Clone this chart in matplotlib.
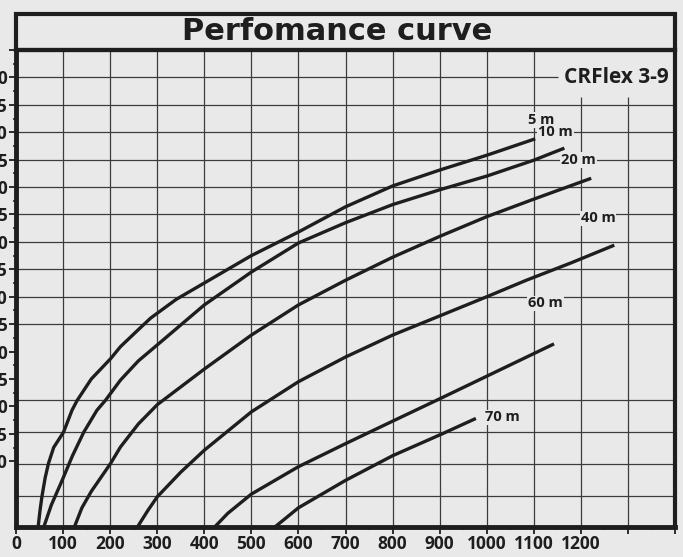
import matplotlib
matplotlib.use('Agg')
import matplotlib.pyplot as plt
from matplotlib.patches import Rectangle

x_5m = [47, 51, 55, 62, 69, 80, 101, 119, 130, 160, 201, 222, 260, 286, 340, 400, 500, 600, 700, 800, 900, 1000, 1103]
y_5m = [-2, 1, 3.5, 7, 9.6, 12.5, 15.3, 19.3, 21.1, 25, 28.7, 30.9, 34, 36.1, 39.5, 42.5, 47.5, 51.8, 56.4, 60.2, 63.1, 65.8, 68.8]
x_10m = [59, 75, 98, 120, 144, 172, 190, 222, 260, 300, 400, 500, 600, 700, 800, 900, 1000, 1100, 1165]
y_10m = [-2, 2, 6.5, 11, 15.3, 19.3, 21.1, 24.8, 28.3, 31.2, 38.5, 44.5, 49.8, 53.5, 56.8, 59.5, 62, 64.9, 67.1]
x_20m = [124, 140, 160, 201, 222, 260, 300, 400, 500, 600, 700, 800, 900, 1000, 1100, 1222]
y_20m = [-2, 1.5, 4.5, 9.6, 12.6, 16.8, 20.3, 26.8, 33, 38.5, 43, 47.2, 51, 54.6, 57.8, 61.6]
x_40m = [258, 280, 300, 350, 400, 500, 600, 700, 800, 903, 1003, 1084, 1180, 1271]
y_40m = [-2, 1, 3.5, 8, 12, 19, 24.5, 29, 33, 36.6, 40.1, 43, 46.2, 49.4]
x_60m = [422, 450, 500, 600, 700, 800, 903, 1000, 1143]
y_60m = [-2, 0.5, 4, 9, 13.2, 17.3, 21.5, 25.5, 31.4]
x_70m = [550, 600, 700, 800, 903, 977]
y_70m = [-2, 1.5, 6.5, 11, 14.9, 17.8]

curves = [(x_5m, y_5m), (x_10m, y_10m), (x_20m, y_20m),
          (x_40m, y_40m), (x_60m, y_60m), (x_70m, y_70m)]
curve_labels = ['5 m', '10 m', '20 m', '40 m', '60 m', '70 m']
label_pos = [(1116, 72.2), (1146, 70.0), (1195, 64.9), (1237, 54.3), (1125, 38.8), (1033, 18.0)]

x_ticks = list(range(0, 1401, 100))
x_ticklabels = [str(v) if v <= 1200 else '' for v in x_ticks]
y_ticks = list(range(10, 86, 5))
y_ticklabels = [str(v) if v <= 80 else '' for v in y_ticks]
h_grid = [80, 75, 70, 65, 60, 55, 50, 45, 40, 35, 21.1, 15.3, 9.45, 3.6]
v_grid = list(range(100, 1301, 100))

bg = '#e9e9e9'
ink = '#1e1e1e'
grid_c = '#3c3c3c'

fig = plt.figure(figsize=(6.83, 5.57), dpi=100, facecolor=bg)
ax = fig.add_axes([16 / 683, 30 / 557, 659 / 683, 477 / 557], facecolor=bg)
ax.set_xlim(0, 1400)
ax.set_ylim(-2, 85)

# grid (drawn by hand, the top corner is partly blank behind the model name)
for v in v_grid:
    top = 76.4 if v >= 1200 else 85
    ax.vlines(v, -2, top, color=grid_c, lw=0.9, zorder=1)
for h in h_grid:
    right = 1152 if h == 80 else 1400
    ax.hlines(h, 0, right, color=grid_c, lw=0.9, zorder=1)

for (xs, ys) in curves:
    ax.plot(xs, ys, color=ink, lw=2.4, solid_capstyle='butt', zorder=3)

for lab, (lx, ly) in zip(curve_labels, label_pos):
    ax.text(lx, ly, lab, ha='center', va='center', fontsize=10.5, fontweight='bold',
            family='Open Sans', color=ink, zorder=4,
            bbox=dict(facecolor=bg, edgecolor='none', pad=0.5))

ax.text(1276, 80, 'CRFlex 3-9', ha='center', va='center', fontsize=15,
        fontweight='bold', family='Open Sans', color=ink, zorder=4)

ax.set_xticks(x_ticks)
ax.set_xticklabels(x_ticklabels)
ax.set_xticks(range(50, 1400, 100), minor=True)
ax.set_yticks(y_ticks)
ax.set_yticklabels(y_ticklabels)
ax.set_yticks([v + 2.5 for v in y_ticks[:-1]], minor=True)
ax.tick_params(which='major', length=5, width=1.3, color=ink, pad=1)
ax.tick_params(which='minor', length=2.5, width=1.1, color=ink)
for lab in ax.get_xticklabels() + ax.get_yticklabels():
    lab.set_family('Open Sans')
    lab.set_fontweight('bold')
    lab.set_fontsize(12.5)
    lab.set_color(ink)

for side in ['left', 'bottom']:
    ax.spines[side].set_linewidth(3.5)
    ax.spines[side].set_color(ink)
ax.spines['right'].set_linewidth(3)
ax.spines['right'].set_color(ink)
ax.spines['top'].set_linewidth(3)
ax.spines['top'].set_color(ink)

# title box above the plot
fig.add_artist(Rectangle((16 / 683, 507 / 557), 659 / 683, 36 / 557,
                         transform=fig.transFigure, fill=False, lw=3, ec=ink))
fig.text(0.494, 525 / 557, 'Perfomance curve', ha='center', va='center',
         fontsize=22, fontweight='bold', family='DejaVu Sans', color=ink)

fig.savefig('out.png', dpi=100, facecolor=bg)
